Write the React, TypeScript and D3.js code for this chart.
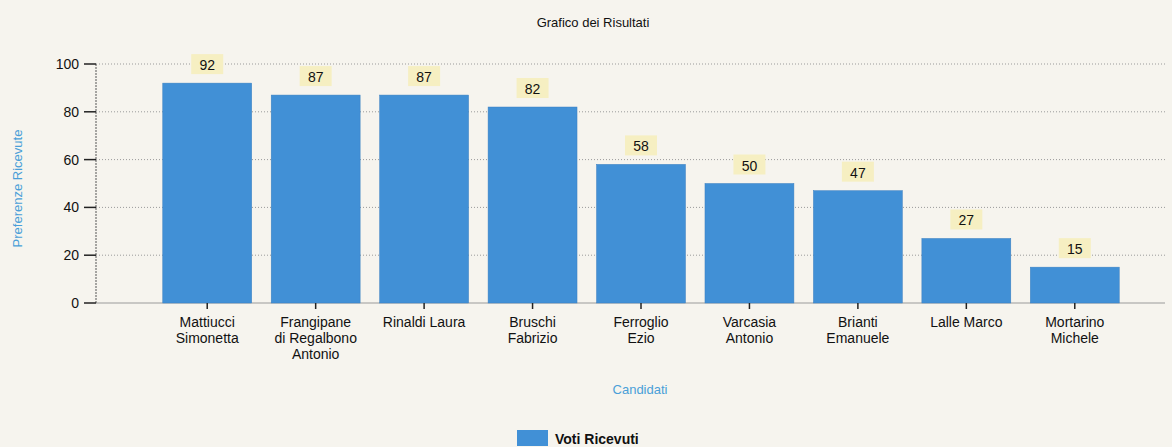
import React from "react";
import * as d3 from "d3";

const candidates = [
  "Mattiucci Simonetta",
  "Frangipane di Regalbono Antonio",
  "Rinaldi Laura",
  "Bruschi Fabrizio",
  "Ferroglio Ezio",
  "Varcasia Antonio",
  "Brianti Emanuele",
  "Lalle Marco",
  "Mortarino Michele",
];
const labelLines = [
  ["Mattiucci", "Simonetta"],
  ["Frangipane", "di Regalbono", "Antonio"],
  ["Rinaldi Laura"],
  ["Bruschi", "Fabrizio"],
  ["Ferroglio", "Ezio"],
  ["Varcasia", "Antonio"],
  ["Brianti", "Emanuele"],
  ["Lalle Marco"],
  ["Mortarino", "Michele"],
];
const votes = [92, 87, 87, 82, 58, 50, 47, 27, 15];
const yTicks = [0, 20, 40, 60, 80, 100];

const W = 1172;
const H = 447;
const axisLeft = 96;
const axisRight = 1165;
const y0 = 303;
const y100 = 64;

export default function App() {
  const x = d3
    .scaleBand<string>()
    .domain(candidates)
    .range([153, 1129])
    .paddingInner(0.18)
    .paddingOuter(0.09);
  const y = d3.scaleLinear().domain([0, 100]).range([y0, y100]);
  const barColor = "#4190d6";
  const font = "'Liberation Sans', Arial, sans-serif";

  return (
    <svg
      width={W}
      height={H}
      style={{ position: "absolute", left: 0, top: 0, background: "#f6f4ee" }}
      fontFamily={font}
    >
      <rect x={0} y={0} width={W} height={H} fill="#f6f4ee" />
      <text x={593} y={27} textAnchor="middle" fontSize={13} fill="#111">
        Grafico dei Risultati
      </text>

      {/* gridlines */}
      {yTicks.map((t) => (
        <line
          key={"g" + t}
          x1={axisLeft}
          x2={axisRight}
          y1={y(t)}
          y2={y(t)}
          stroke="#9a9a9a"
          strokeWidth={1}
          strokeDasharray={t === 0 ? "" : "1,2"}
        />
      ))}

      {/* y axis */}
      <line x1={axisLeft} x2={axisLeft} y1={y(100)} y2={y(0)} stroke="#555" strokeDasharray="2,1" />
      {yTicks.map((t) => (
        <g key={"t" + t}>
          <line x1={axisLeft - 12} x2={axisLeft} y1={y(t)} y2={y(t)} stroke="#222" strokeWidth={1.5} />
          <text x={axisLeft - 17} y={y(t) + 5} textAnchor="end" fontSize={14} fill="#111">
            {t}
          </text>
        </g>
      ))}
      <text
        transform={`translate(22,${(y(0) + y(100)) / 2 + 5}) rotate(-90)`}
        textAnchor="middle"
        fontSize={13}
        fill="#4a9fd8"
      >
        Preferenze Ricevute
      </text>

      {/* bars */}
      {candidates.map((c, i) => {
        const bx = x(c)!;
        const bw = x.bandwidth();
        const top = y(votes[i]);
        const cx = bx + bw / 2;
        return (
          <g key={c}>
            <rect x={bx} y={top} width={bw} height={y(0) - top} fill={barColor} stroke="#3a7fc0" strokeWidth={0.5} />
            <rect x={cx - 16} y={top - 29} width={32} height={20} fill="#f6efc2" />
            <text x={cx} y={top - 13} textAnchor="middle" fontSize={14} fill="#111">
              {votes[i]}
            </text>
            <line x1={cx} x2={cx} y1={y0} y2={y0 + 6} stroke="#222" strokeWidth={1.5} />
            {labelLines[i].map((ln, j) => (
              <text key={j} x={cx} y={y0 + 24 + j * 16} textAnchor="middle" fontSize={14} fill="#111">
                {ln}
              </text>
            ))}
          </g>
        );
      })}

      <text x={640} y={394} textAnchor="middle" fontSize={13} fill="#4a9fd8">
        Candidati
      </text>

      {/* legend */}
      <rect x={517} y={430} width={31} height={16} fill={barColor} />
      <text x={555} y={444} fontSize={14} fontWeight="bold" fill="#111">
        Voti Ricevuti
      </text>
    </svg>
  );
}
